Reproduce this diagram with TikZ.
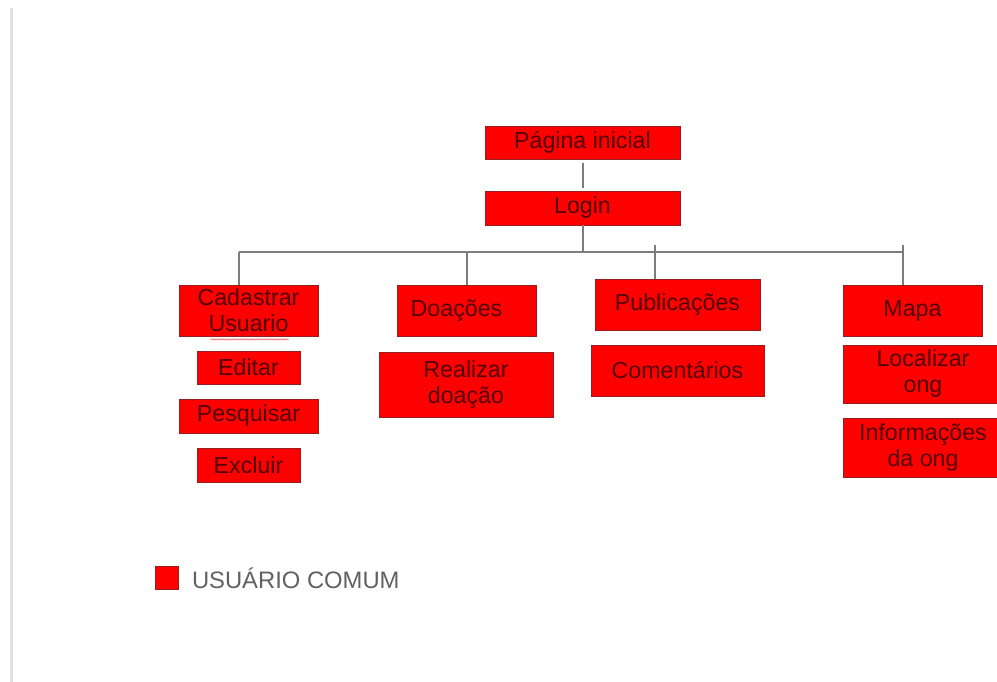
\documentclass[tikz,border=0pt]{standalone}
\usepackage{fontspec}
\setmainfont{Liberation Sans}
\usetikzlibrary{positioning,decorations.pathmorphing}
\definecolor{caixa}{RGB}{255,0,0}
\definecolor{borda}{RGB}{150,30,30}
\definecolor{letra}{RGB}{80,0,5}
\definecolor{linha}{RGB}{125,125,125}
\tikzstyle{tela}=[draw=borda, line width=0.8pt, fill=caixa, text=letra, inner sep=0pt, align=center, font=\fontsize{23.2}{26}\selectfont]
\tikzstyle{liga}=[draw=linha, line width=2pt]

\begin{document}
\begin{tikzpicture}[x=1pt,y=-1pt]
\useasboundingbox (0,0) rectangle (997,682);
\fill[white] (0,0) rectangle (997,682);
\draw[black!12, line width=2.5pt] (11.5,8) -- (11.5,682);
% topo
\node [tela, minimum width=195pt, minimum height=33pt] (pagina) at (582.5,142.5) {Página inicial};
\node [tela, minimum width=195pt, minimum height=34pt] (login) at (582.5,208) {Login};
% ramos
\node [tela, minimum width=139pt, minimum height=51pt] (cadastrar) at (248.5,310.5) {Cadastrar\\Usuario};
\node [tela, minimum width=103pt, minimum height=33pt] (editar) at (248.5,367.5) {Editar};
\node [tela, minimum width=139pt, minimum height=34pt] (pesquisar) at (248.5,416) {Pesquisar};
\node [tela, minimum width=103pt, minimum height=34pt] (excluir) at (248.5,465) {Excluir};
\node [tela, minimum width=139pt, minimum height=51pt] (doacoes) at (466.5,310.5) {Doações\hspace*{20pt}};
\node [tela, minimum width=174pt, minimum height=65pt] (realizar) at (466,384.5) {Realizar\\doação};
\node [tela, minimum width=165pt, minimum height=51pt] (publicacoes) at (677.5,304.5) {Publicações};
\node [tela, minimum width=173pt, minimum height=51pt] (comentarios) at (677.5,370.5) {Comentários};
\node [tela, minimum width=139pt, minimum height=51pt] (mapa) at (912.5,310.5) {Mapa};
\node [tela, minimum width=160pt, minimum height=58pt] (localizar) at (923,374) {Localizar\\ong};
\node [tela, minimum width=160pt, minimum height=59pt] (informacoes) at (923,447.5) {Informações\\da ong};
% barramento
\coordinate (busL) at (239,252);
\coordinate (busR) at (903,252);
\coordinate (pubtop) at (655,245);
\coordinate (maptop) at (903,245);
\path[liga, shorten <=4pt, shorten >=3pt] (pagina) -- (login);
\path[liga] (busL) -- (busR);
\path[liga] (login) -- (login |- busL);
\path[liga] (busL) -- (busL |- cadastrar.north);
\path[liga] (doacoes |- busL) -- (doacoes);
\path[liga] (pubtop) -- (pubtop |- publicacoes.north);
\path[liga] (maptop) -- (maptop |- mapa.north);
\draw[red!55, line width=0.8pt, decorate, decoration={snake, amplitude=0.6pt, segment length=3pt}] ([xshift=-38pt,yshift=-3pt]cadastrar.south) -- ([xshift=40pt,yshift=-3pt]cadastrar.south);
% legenda
\node [draw=borda, line width=0.6pt, fill=caixa, minimum size=23pt, inner sep=0pt] (legcor) at (167,578) {};
\node [right=13pt of legcor, text=black!62, font=\fontsize{23.8}{26}\selectfont, inner sep=0pt] (legenda) {USUÁRIO COMUM};
\end{tikzpicture}
\end{document}
